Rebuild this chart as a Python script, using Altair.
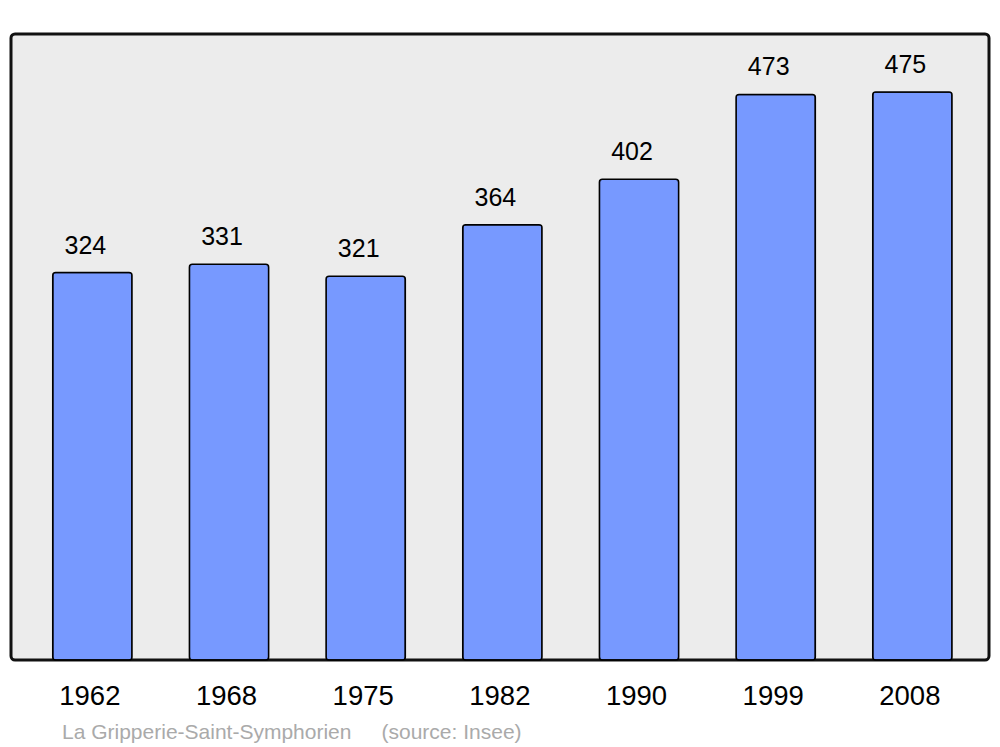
import altair as alt
import pandas as pd

years = ["1962", "1968", "1975", "1982", "1990", "1999", "2008"]
population = [324, 331, 321, 364, 402, 473, 475]
place = "La Gripperie-Saint-Symphorien"
source = "(source: Insee)"

df = pd.DataFrame({"year": years, "pop": population})

FONT = "Liberation Sans"

x = alt.X("year:N", sort=years, title=None,
          scale=alt.Scale(paddingInner=0.42, paddingOuter=0.288, align=0.53),
          axis=alt.Axis(labelAngle=0, labelFontSize=27.5, labelFont=FONT, labelColor="#000",
                        ticks=False, domain=False, labelBaseline="alphabetic", labelPadding=44,
                        labelOffset=-2.5))
y = alt.Y("pop:Q", title=None, scale=alt.Scale(domain=[0, 523.5], nice=False, zero=True), axis=None)

bars = alt.Chart(df).mark_bar(color="#7799ff", stroke="#000", strokeWidth=1.5, cornerRadius=3).encode(x=x, y=y)

labels = alt.Chart(df).mark_text(fontSize=25, font=FONT, color="#000", baseline="alphabetic", dy=-19, dx=-7).encode(
    x=alt.X("year:N", sort=years), y="pop:Q", text="pop:Q")

src1 = alt.Chart(pd.DataFrame({"t": [place]})).mark_text(
    fontSize=21, font=FONT, color="#aaaaaa", align="left", baseline="alphabetic").encode(
    x=alt.value(51), y=alt.value(704.5), text="t:N")
src2 = alt.Chart(pd.DataFrame({"t": [source]})).mark_text(
    fontSize=21, font=FONT, color="#aaaaaa", align="left", baseline="alphabetic").encode(
    x=alt.value(370.5), y=alt.value(704.5), text="t:N")

chart = alt.layer(bars, labels, src1, src2).properties(
    width=978, height=626,
    autosize=alt.AutoSizeParams(type="none"),
    padding={"left": 3, "top": 26, "right": 3, "bottom": 86},
    background="#ffffff",
).configure_view(fill="#ececec", stroke="#111111", strokeWidth=3, cornerRadius=4)

chart.save("out.html", embed_options={"renderer": "svg", "actions": False})
